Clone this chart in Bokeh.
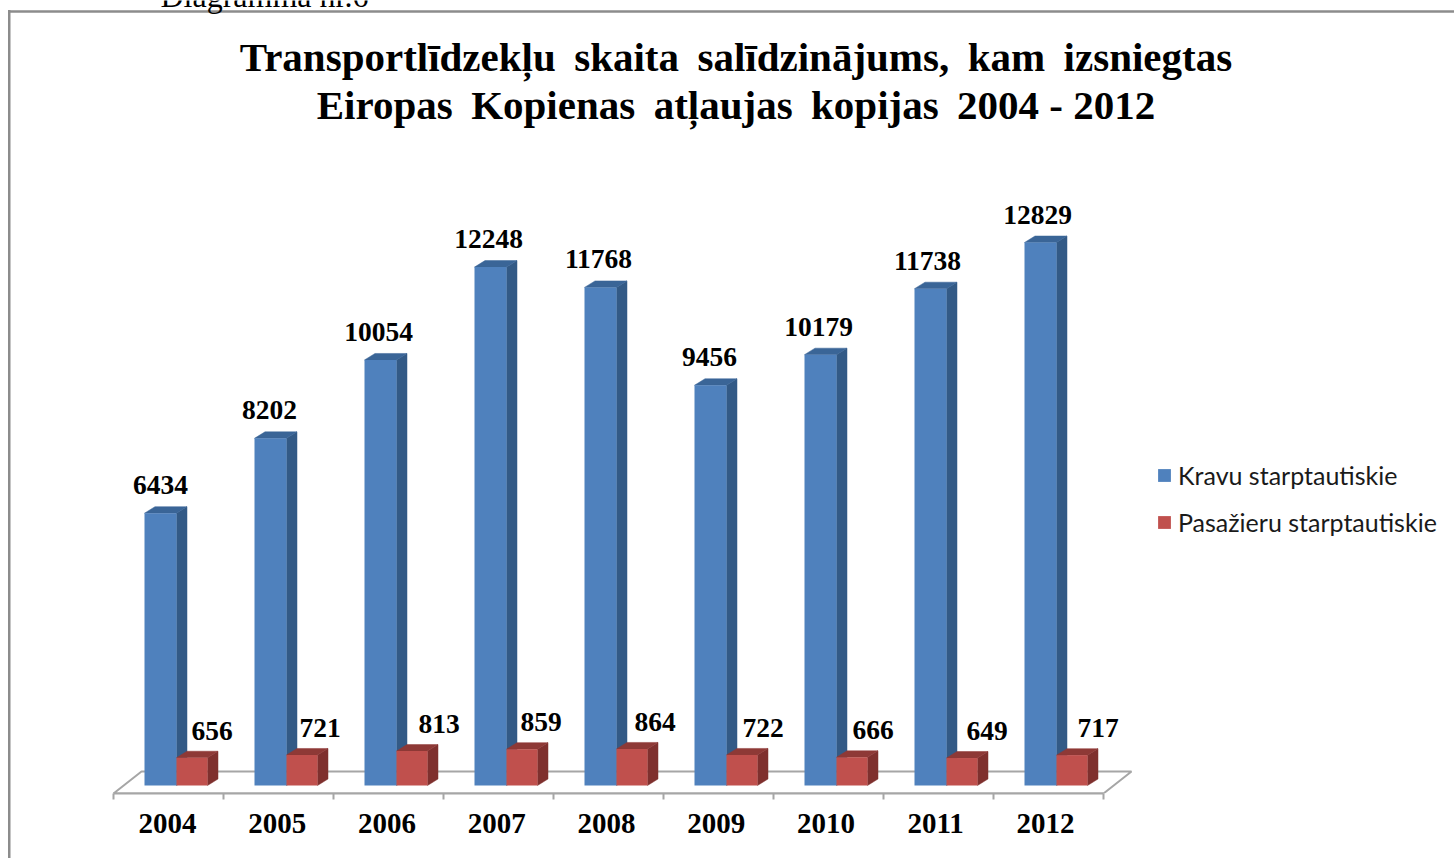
from bokeh.embed import file_html
from bokeh.resources import INLINE
from bokeh.plotting import figure
from bokeh.models import (Range1d, LinearAxis, FixedTicker, Label, Legend, LegendItem, Arrow)
from bokeh.core.properties import value

years = ["2004", "2005", "2006", "2007", "2008", "2009", "2010", "2011", "2012"]
kravu = [6434, 8202, 10054, 12248, 11768, 9456, 10179, 11738, 12829]
pasazieru = [656, 721, 813, 859, 864, 722, 666, 649, 717]
series_names = ["Kravu starptautiskie", "Pasažieru starptautiskie"]
title_lines = ["Transportlīdzekļu \u2009skaita \u2009salīdzinājums, \u2009kam \u2009izsniegtas",
               "Eiropas \u2009Kopienas \u2009atļaujas \u2009kopijas \u20092004 - 2012"]
caption = "Diagramma nr.6"

W, H = 1454, 858
PX_X = 110.0          # pixels per category
PX_Y = 543.0 / 12829  # pixels per permit
X0, Y0, YF = 113, 785, 793
SERIF = "Liberation Serif"


def sx(px):
    return (px - X0) / PX_X


def sy(py):
    return (Y0 - py) / PX_Y


p = figure(width=W, height=H, output_backend="svg", toolbar_location=None,
           x_range=Range1d(sx(0), sx(W)), y_range=Range1d(sy(YF), sy(0)),
           min_border_left=0, min_border_right=0, min_border_top=0, min_border_bottom=H - YF,
           x_axis_location=None, y_axis_location=None, outline_line_color=None,
           border_fill_color=None, background_fill_color=None)
p.grid.visible = False
# left edge of the pasted picture's frame runs to the bottom of the page
p.styles = {"background": "linear-gradient(#8c8c8c,#8c8c8c) 8px 10px / 2.5px 848px no-repeat"}

GRAY = "#a6a6a6"
# top edge of the frame
p.add_layout(Arrow(end=None, x_start=sx(8), y_start=sy(11), x_end=sx(1454), y_end=sy(11),
                   line_color="#8c8c8c", line_width=2.5))

# floor
DX_F = 28 / PX_X
DY_F = sy(771)
p.patch([0, DX_F, 9 + DX_F, 9], [sy(YF), DY_F, DY_F, sy(YF)], fill_color="white",
        line_color=GRAY, line_width=2)

DX = 10.5 / PX_X
DY = 6.5 / PX_Y
B_L, B_M, B_R = 31 / PX_X, 63 / PX_X, 94 / PX_X


def bars(vals, left, right, front, side, top):
    xs = list(range(len(vals)))
    p.patches([[i + right, i + right + DX, i + right + DX, i + right] for i in xs],
              [[0, DY, v + DY, v] for v in vals], fill_color=side, line_color=side, line_width=0.5)
    p.patches([[i + left, i + left + DX, i + right + DX, i + right] for i in xs],
              [[v, v + DY, v + DY, v] for v in vals], fill_color=top, line_color=top, line_width=0.5)
    return p.quad(left=[i + left for i in xs], right=[i + right for i in xs], bottom=0, top=vals,
                  fill_color=front, line_color=None)


r_blue = bars(kravu, B_L, B_M, "#4f81bd", "#335a86", "#3a6597")
r_red = bars(pasazieru, B_M, B_R, "#c0504d", "#7f302e", "#8e3936")

# value labels
blue_nudge = [0, -1, -2, -2, -2, -1, -2, -3, -3]
red_nudge = [20, 18, 27, 19, 23, 21, 21, 25, 26]
label_style = dict(text_font=value(SERIF), text_font_style="bold", text_font_size="27.5px",
                   text_color="black", text_align="center", text_baseline="middle")
p.text(x=[i + (B_L + B_M) / 2 for i in range(9)], y=kravu, text=[str(v) for v in kravu],
       x_offset=blue_nudge, y_offset=-28, **label_style)
p.text(x=[i + (B_M + B_R) / 2 for i in range(9)], y=pasazieru, text=[str(v) for v in pasazieru],
       x_offset=red_nudge, y_offset=-27, **label_style)

# category axis
label_ticks = [round(0.49 + i * 109.75 / 110, 4) for i in range(9)]
ax = LinearAxis(ticker=FixedTicker(ticks=label_ticks, minor_ticks=list(range(10))),
                bounds=(0, 9), major_label_overrides=dict(zip(label_ticks, years)),
                axis_line_color=GRAY, axis_line_width=2,
                major_tick_line_color=None, major_tick_out=0, major_tick_in=0,
                minor_tick_line_color=GRAY, minor_tick_line_width=2, minor_tick_out=6, minor_tick_in=0,
                major_label_standoff=14, major_label_text_font=SERIF,
                major_label_text_font_style="bold", major_label_text_font_size="29px",
                major_label_text_color="black")
p.add_layout(ax, "below")

# title and caption
title_style = dict(x_units="data", y_units="data", text_font=SERIF, text_font_style="bold",
                   text_font_size="41px", text_color="black", text_align="center", text_baseline="middle")
p.add_layout(Label(x=sx(735.5), y=sy(56), text=title_lines[0], **title_style))
p.add_layout(Label(x=sx(735.5), y=sy(104), text=title_lines[1], **title_style))
p.add_layout(Label(x=sx(160), y=sy(-5), text=caption, text_font=SERIF, text_font_size="32px",
                   text_color="black", text_align="left", text_baseline="alphabetic"))

# legend
legend = Legend(items=[LegendItem(label=series_names[0], renderers=[r_blue]),
                       LegendItem(label=series_names[1], renderers=[r_red])],
                location=(1156, H - 65 - 537), orientation="vertical",
                background_fill_alpha=0, border_line_color=None, margin=0, padding=10,
                glyph_width=16, glyph_height=16, label_height=13, spacing=17,
                label_standoff=6, label_text_font="Lato", label_text_font_size="25px",
                label_text_color="#1a1a1a", label_text_baseline="middle")
p.add_layout(legend, "center")

open("out.html", "w").write(file_html(p, INLINE))
